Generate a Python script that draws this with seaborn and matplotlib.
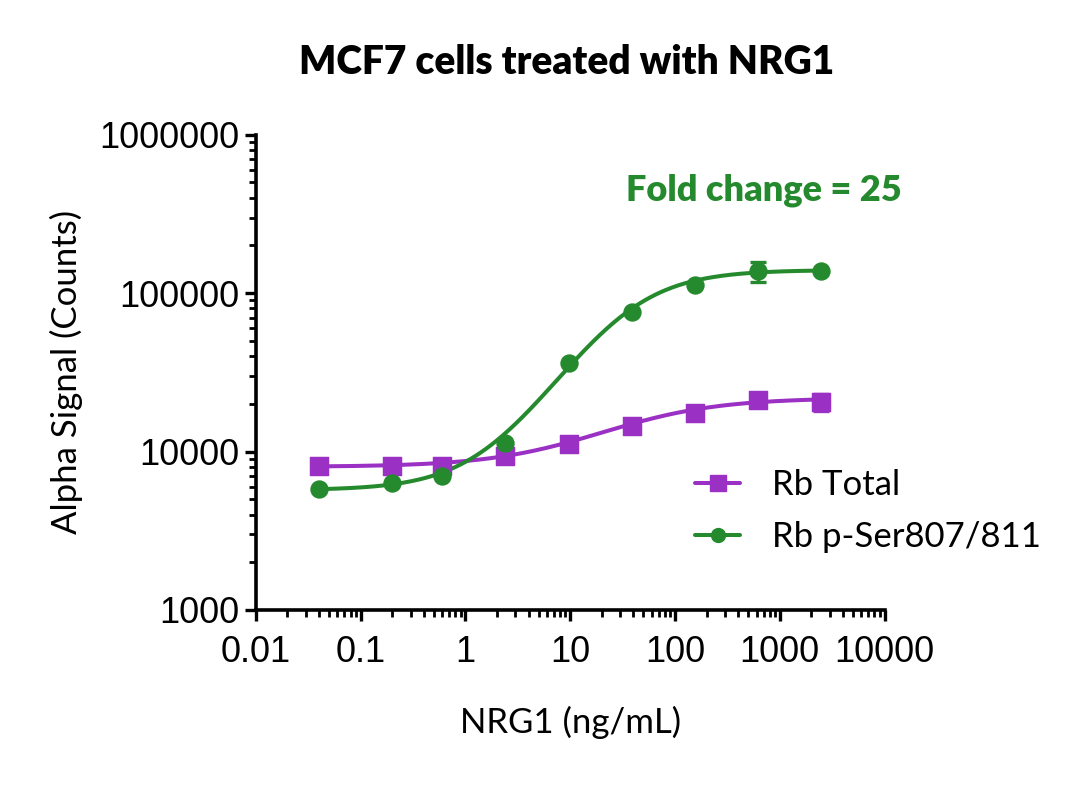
import numpy as np
import matplotlib
matplotlib.use('Agg')
import matplotlib.pyplot as plt
import matplotlib.ticker as mticker
from matplotlib.lines import Line2D
import seaborn as sns

# Data
dose = [0.04, 0.2, 0.6, 2.4, 9.8, 39, 156, 625, 2500]
rb_total = [8100, 8100, 8050, 9400, 11100, 14500, 17500, 21100, 20500]
rb_total_err = [0, 0, 0, 0, 0, 0, 0, 0, 2500]
rb_phospho = [5800, 6300, 7000, 11400, 36300, 76000, 112000, 138000, 138000]
rb_phospho_err = [0, 0, 0, 0, 0, 0, 0, 20000, 0]

# 4PL fit parameters (bottom, top, EC50, hill) estimated from the drawn curves
fit_total = (8000, 21800, 38, 0.8)
fit_phospho = (5700, 140000, 32, 1.1)

purple = '#9b30c4'
green = '#258a2e'

sns.set_style("ticks")
# tick labels in a Helvetica-like face, other texts in Lato
plt.rcParams['font.family'] = ['Liberation Sans', 'DejaVu Sans']
plt.rcParams['text.color'] = 'black'
plt.rcParams['axes.labelcolor'] = 'black'
plt.rcParams['xtick.color'] = 'black'
plt.rcParams['ytick.color'] = 'black'
lato = ['Lato', 'DejaVu Sans']

fig = plt.figure(figsize=(10.8, 7.88), dpi=100)
ax = fig.add_axes([0.237, 0.226, 0.582, 0.603])


def four_pl(x, params):
    bottom, top, ec50, hill = params
    return bottom + (top - bottom) / (1 + (ec50 / x) ** hill)


xs = np.logspace(np.log10(dose[0]), np.log10(dose[-1]), 300)
sns.lineplot(x=xs, y=four_pl(xs, fit_total), color=purple, lw=2.9, ax=ax)
sns.lineplot(x=xs, y=four_pl(xs, fit_phospho), color=green, lw=2.9, ax=ax)

ax.errorbar(dose, rb_total, yerr=rb_total_err, fmt='none', ecolor=purple,
            elinewidth=2.4, capsize=6, capthick=2.4)
ax.errorbar(dose, rb_phospho, yerr=rb_phospho_err, fmt='none', ecolor=green,
            elinewidth=2.4, capsize=6, capthick=2.4)
sns.scatterplot(x=dose, y=rb_total, marker='s', s=170, color=purple,
                edgecolor=purple, ax=ax, zorder=5)
sns.scatterplot(x=dose, y=rb_phospho, marker='o', s=150, color=green,
                edgecolor=green, ax=ax, zorder=5)

ax.set_xscale('log')
ax.set_yscale('log')
ax.set_xlim(0.01, 10000)
ax.set_ylim(1000, 1000000)

fmt = mticker.FuncFormatter(lambda v, p: f'{v:g}' if v < 1 else f'{int(round(v))}')
ax.xaxis.set_major_locator(mticker.LogLocator(base=10, numticks=10))
ax.yaxis.set_major_locator(mticker.LogLocator(base=10, numticks=10))
ax.xaxis.set_major_formatter(fmt)
ax.yaxis.set_major_formatter(fmt)
ax.xaxis.set_minor_locator(mticker.LogLocator(base=10, subs=np.arange(2, 10), numticks=20))
ax.yaxis.set_minor_locator(mticker.LogLocator(base=10, subs=np.arange(2, 10), numticks=20))
ax.xaxis.set_minor_formatter(mticker.NullFormatter())
ax.yaxis.set_minor_formatter(mticker.NullFormatter())

ax.tick_params(axis='both', which='major', length=8, width=2.4, labelsize=26,
               color='black', labelcolor='black', direction='out')
ax.tick_params(axis='both', which='minor', length=5, width=2.0, color='black',
               direction='out')
ax.tick_params(axis='x', which='major', pad=10)
ax.tick_params(axis='y', which='major', pad=4)

for side in ['top', 'right']:
    ax.spines[side].set_visible(False)
for side in ['left', 'bottom']:
    ax.spines[side].set_linewidth(2.6)
    ax.spines[side].set_color('black')

ax.set_xlabel('NRG1 (ng/mL)', fontsize=25, labelpad=26, family=lato)
ax.set_ylabel('Alpha Signal (Counts)', fontsize=25, labelpad=12, family=lato)
fig.text(0.525, 0.921, 'MCF7 cells treated with NRG1', fontsize=28,
         fontweight='heavy', ha='center', va='center', family=lato)

ax.text(0.808, 0.884, 'Fold change = 25', transform=ax.transAxes, color=green,
        fontsize=26, fontweight='heavy', ha='center', va='center', family=lato)

handles = [
    Line2D([], [], color=purple, lw=2.9, marker='s', markersize=11),
    Line2D([], [], color=green, lw=2.9, marker='o', markersize=10),
]
ax.legend(handles, ['Rb Total', 'Rb p-Ser807/811'], loc='upper left',
          bbox_to_anchor=(0.649, 0.362), frameon=False,
          prop={'family': lato, 'size': 25},
          handlelength=1.3, handletextpad=0.9, labelspacing=0.57)

fig.savefig('out.png', dpi=100)
